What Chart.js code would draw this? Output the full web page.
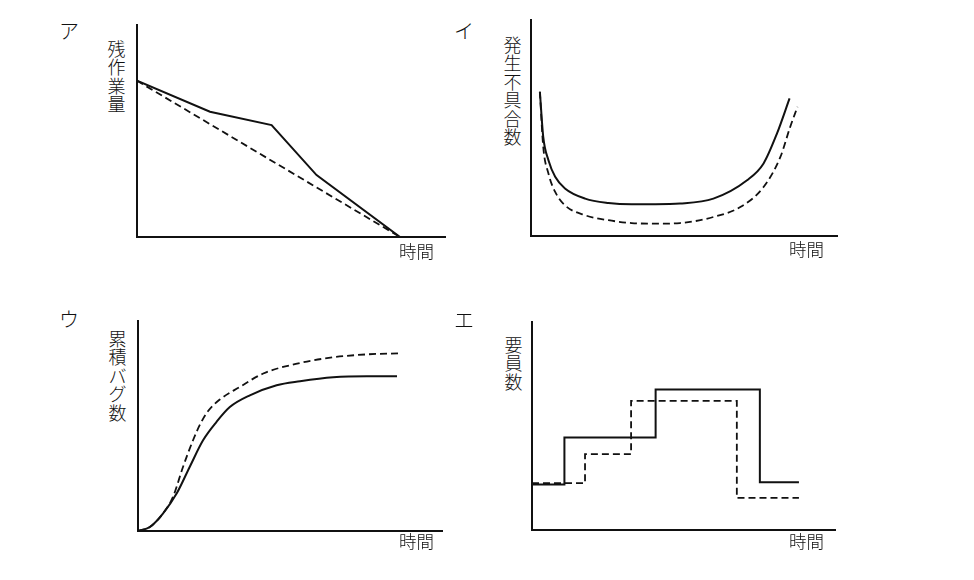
<!DOCTYPE html>
<html>
<head>
<meta charset="utf-8">
<script src="https://cdn.jsdelivr.net/npm/chart.js@4.4.1/dist/chart.umd.min.js"></script>
<style>
  html, body { margin: 0; padding: 0; background: #fff; }
  body { width: 974px; height: 580px; position: relative; overflow: hidden;
         font-family: "Noto Sans CJK JP", "Noto Sans", sans-serif; color: #111; }
  .box { position: absolute; }
  .tag { position: absolute; font-size: 20px; line-height: 22px; font-weight: 300; }
  .ylab { position: absolute; font-size: 18px; line-height: 18.4px; font-weight: 300; width: 19px; text-align: center; }
  .ylab span { display: block; height: 18.4px; }
  .xlab { position: absolute; font-size: 17.5px; line-height: 18px; font-weight: 300; white-space: nowrap; }
</style>
</head>
<body>
<script>
// ---------- data (axis units 0..100 on both axes) ----------
const panelTags = ["ア", "イ", "ウ", "エ"];
const yTitles = ["残作業量", "発生不具合数", "累積バグ数", "要員数"];
const xTitle = "時間";

// ア : remaining work
const aSolidX = [0, 23.7, 43.7, 58.3, 85.4];
const aSolidY = [73.7, 59.1, 52.8, 29.2, 0];
const aDashX = [0, 85.4];
const aDashY = [73.7, 0];

// イ : defects found (bathtub)
const iSolidX = [2.9, 4.0, 5.7, 7.9, 11.1, 17.7, 25.3, 32.9, 40.6, 48.7, 59.6, 70.6, 76.0, 80.4, 84.5];
const iSolidY = [66.8, 45.9, 35.1, 27.4, 22.0, 17.3, 15.3, 14.7, 14.7, 15.0, 17.3, 25.8, 33.6, 47.5, 63.7];
const iDashX = [2.9, 4.0, 5.7, 7.9, 11.1, 17.7, 25.3, 32.9, 40.6, 48.7, 59.6, 68.4, 76.0, 81.5, 84.7, 87.1];
const iDashY = [66.8, 41.3, 28.9, 20.4, 14.2, 9.6, 7.3, 6.0, 5.7, 6.0, 8.8, 13.4, 22.7, 36.6, 50.5, 59.8];

// ウ : cumulative bugs
const uSolidX = [0, 3.9, 8.2, 12.7, 17.0, 21.4, 25.8, 30.2, 36.8, 45.6, 53.3, 64.2, 75.3, 85.2];
const uSolidY = [0, 1.9, 8.3, 17.8, 30.5, 43.2, 51.9, 59.0, 64.6, 69.4, 71.3, 73.2, 73.7, 73.7];
const uDashX = [0, 3.9, 8.2, 11.5, 14.8, 18.1, 20.5, 23.0, 26.9, 33.5, 41.2, 53.3, 64.2, 75.3, 85.6];
const uDashY = [0, 1.9, 8.3, 16.2, 30.5, 43.2, 51.0, 57.0, 62.6, 68.6, 75.0, 80.0, 82.7, 84.1, 84.6];

// エ : staffing (step levels, each value holds from its x to the next)
const eSolidX = [0, 10.7, 40.8, 75.2, 88.1];
const eSolidY = [21.9, 44.5, 67.5, 22.9, 22.9];
const eDashX = [0, 17.5, 32.7, 67.6, 88.1];
const eDashY = [22.5, 36.5, 62.1, 15.4, 15.4];

// ---------- layout (pixel geometry of each panel) ----------
const panels = [
  { axL: 137, axT: 25,  axR: 445, axB: 237, tag: [59, 20], ylab: [107, 39], xlab: [399, 242] },
  { axL: 531, axT: 20,  axR: 837, axB: 236, tag: [454, 20], ylab: [503, 35], xlab: [789, 240] },
  { axL: 138, axT: 321, axR: 442, axB: 531, tag: [59, 308], ylab: [108, 329], xlab: [399, 532] },
  { axL: 532, axT: 322, axR: 835, axB: 530, tag: [454, 309], ylab: [504, 335], xlab: [789, 532] }
];

const seriesSets = [
  { solid: [aSolidX, aSolidY], dash: [aDashX, aDashY], mode: "line" },
  { solid: [iSolidX, iSolidY], dash: [iDashX, iDashY], mode: "curve" },
  { solid: [uSolidX, uSolidY], dash: [uDashX, uDashY], mode: "curve" },
  { solid: [eSolidX, eSolidY], dash: [eDashX, eDashY], mode: "step" }
];

const INK = "#111";
const PAD = 6;

function pts(xs, ys) { return xs.map((x, i) => ({ x: x, y: ys[i] })); }

function addText(cls, txt, x, y, vertical) {
  const d = document.createElement("div");
  d.className = cls;
  if (vertical) {
    Array.from(txt).forEach(ch => {
      const s = document.createElement("span");
      s.textContent = ch;
      d.appendChild(s);
    });
  } else {
    d.textContent = txt;
  }
  d.style.left = x + "px";
  d.style.top = y + "px";
  document.body.appendChild(d);
}

panels.forEach((p, k) => {
  const s = seriesSets[k];
  const w = p.axR - p.axL + 2 * PAD;
  const h = p.axB - p.axT + 2 * PAD;
  const box = document.createElement("div");
  box.className = "box";
  box.style.left = (p.axL - PAD) + "px";
  box.style.top = (p.axT - PAD) + "px";
  box.style.width = w + "px";
  box.style.height = h + "px";
  const cv = document.createElement("canvas");
  cv.width = w; cv.height = h;
  cv.style.width = w + "px"; cv.style.height = h + "px";
  box.appendChild(cv);
  document.body.appendChild(box);

  const common = {
    borderColor: INK, pointRadius: 0, fill: false,
    tension: 0, cubicInterpolationMode: s.mode === "curve" ? "monotone" : "default",
    stepped: s.mode === "step" ? true : false
  };

  new Chart(cv, {
    type: "line",
    data: {
      datasets: [
        Object.assign({ label: "solid", data: pts(s.solid[0], s.solid[1]), borderWidth: 2 }, common),
        Object.assign({ label: "dashed", data: pts(s.dash[0], s.dash[1]), borderDash: [7, 4], borderWidth: 1.8 }, common)
      ]
    },
    options: {
      responsive: false,
      animation: false,
      devicePixelRatio: 1,
      layout: { padding: PAD },
      plugins: { legend: { display: false }, tooltip: { enabled: false } },
      scales: {
        x: {
          type: "linear", min: 0, max: 100,
          grid: { display: false, drawTicks: false },
          ticks: { display: false },
          border: { display: true, color: INK, width: 2 }
        },
        y: {
          type: "linear", min: 0, max: 100,
          grid: { display: false, drawTicks: false },
          ticks: { display: false },
          border: { display: true, color: INK, width: 2 }
        }
      }
    }
  });

  addText("tag", panelTags[k], p.tag[0], p.tag[1], false);
  addText("ylab", yTitles[k], p.ylab[0], p.ylab[1], true);
  addText("xlab", xTitle, p.xlab[0], p.xlab[1], false);
});
</script>
</body>
</html>
